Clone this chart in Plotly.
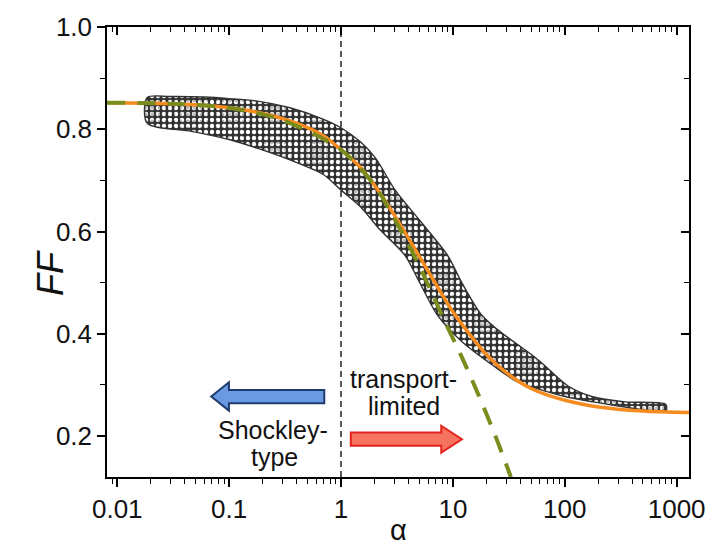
import plotly.graph_objects as go

# ---------------- data ----------------
# measured cloud envelope (upper / lower edges of the scatter of FF vs alpha)
cloud_upper_alpha = [0.0185, 0.03, 0.06, 0.1, 0.18, 0.35, 0.69, 1.0, 1.5, 2.03, 3.05, 5.0,
                     9.0, 12.0, 17.6, 23.0, 30.0, 38.5, 50.0, 64.6, 107.0, 178.0, 346.0, 800.0]
cloud_upper_ff = [0.862, 0.864, 0.863, 0.860, 0.855, 0.842, 0.820, 0.803, 0.775, 0.744, 0.681, 0.623,
                  0.553, 0.500, 0.440, 0.415, 0.395, 0.378, 0.360, 0.340, 0.298, 0.277, 0.267, 0.262]
cloud_lower_alpha = [0.0185, 0.046, 0.1, 0.178, 0.35, 0.69, 1.0, 1.5, 2.2, 3.74, 5.0, 7.3,
                     12.0, 23.2, 38.5, 64.6, 107.0, 178.0, 346.0, 800.0]
cloud_lower_ff = [0.812, 0.796, 0.780, 0.763, 0.740, 0.712, 0.681, 0.648, 0.605, 0.553, 0.502, 0.436,
                  0.385, 0.337, 0.305, 0.289, 0.276, 0.267, 0.257, 0.248]

# orange full-model fit
fit_alpha = [0.0081, 0.02, 0.05, 0.1, 0.2, 0.4, 0.7, 1.0, 1.5, 2.0, 3.0, 5.0, 7.0, 10.0,
             14.0, 20.0, 30.0, 50.0, 100.0, 200.0, 500.0, 1290.0]
fit_ff = [0.852, 0.851, 0.848, 0.842, 0.831, 0.812, 0.787, 0.760, 0.725, 0.690, 0.632, 0.552,
          0.498, 0.443, 0.400, 0.359, 0.324, 0.293, 0.270, 0.257, 0.249, 0.246]

# green dashed Shockley-type curve
shockley_alpha = [0.0081, 0.03, 0.1, 0.3, 1.0, 2.0, 3.0, 4.86, 6.42, 8.7, 12.0, 17.0, 24.0, 33.0]
shockley_ff = [0.852, 0.850, 0.842, 0.818, 0.760, 0.690, 0.625, 0.539, 0.482, 0.419, 0.355, 0.280, 0.200, 0.120]

x_tickvals = [0.01, 0.1, 1, 10, 100, 1000]
x_ticktext = ["0.01", "0.1", "1", "10", "100", "1000"]
y_tickvals = [0.2, 0.4, 0.6, 0.8, 1.0]
y_ticktext = ["0.2", "0.4", "0.6", "0.8", "1.0"]
y_minor = [0.3, 0.5, 0.7, 0.9]
x_minor = [m * 10.0 ** e for e in range(-3, 4) for m in range(2, 10)]

XR = [-2.0915, 3.1106]
YR = [0.12, 1.0]
FONT = "Liberation Sans, Arial, sans-serif"

fig = go.Figure()

# scatter cloud drawn as a dotted band between measured edges
poly_x = cloud_upper_alpha + cloud_lower_alpha[::-1] + [cloud_upper_alpha[0]]
poly_y = cloud_upper_ff + cloud_lower_ff[::-1] + [cloud_upper_ff[0]]
fig.add_trace(go.Scatter(
    x=poly_x, y=poly_y, mode="lines", fill="toself",
    line=dict(color="#333333", width=1.4, shape="spline", smoothing=0.8),
    fillcolor="#555555",
    fillpattern=dict(shape=".", fgcolor="white", bgcolor="#333333", size=6, solidity=0.42,
                     fillmode="replace"),
    hoverinfo="skip", showlegend=False))
# second, offset-period texture layer to break up the regular grid
fig.add_trace(go.Scatter(
    x=poly_x, y=poly_y, mode="lines", fill="toself",
    line=dict(color="rgba(0,0,0,0)", width=0, shape="spline", smoothing=0.8),
    fillcolor="rgba(0,0,0,0)",
    fillpattern=dict(shape=".", fgcolor="rgba(30,30,30,0.6)", bgcolor="rgba(0,0,0,0)",
                     size=7, solidity=0.25, fillmode="overlay"),
    hoverinfo="skip", showlegend=False))

fig.add_trace(go.Scatter(x=fit_alpha, y=fit_ff, mode="lines",
                         line=dict(color="#f68b1f", width=3.5, shape="spline", smoothing=0.8),
                         hoverinfo="skip", showlegend=False))
fig.add_trace(go.Scatter(x=shockley_alpha, y=shockley_ff, mode="lines",
                         line=dict(color="#7b8b1c", width=4, dash="18px,12px", shape="spline",
                                   smoothing=0.8),
                         hoverinfo="skip", showlegend=False))
# invisible trace for mirror axes
fig.add_trace(go.Scatter(x=[1], y=[0.5], xaxis="x2", yaxis="y2", mode="markers",
                         marker=dict(opacity=0), hoverinfo="skip", showlegend=False))

axis_common = dict(showline=True, linecolor="black", linewidth=1.5, showgrid=False,
                   zeroline=False, tickcolor="black", tickwidth=1.5,
                   tickfont=dict(family=FONT, size=26, color="#111"))

fig.update_layout(
    width=717, height=551,
    margin=dict(l=107, r=18, t=16, b=74),
    paper_bgcolor="white", plot_bgcolor="white",
    xaxis=dict(type="log", range=XR, tickvals=x_tickvals, ticktext=x_ticktext,
               ticks="outside", ticklen=8, mirror=True,
               minor=dict(tickvals=x_minor, ticks="outside", ticklen=5, tickwidth=1.2,
                          tickcolor="black"),
               **axis_common),
    yaxis=dict(range=YR, tickvals=y_tickvals, ticktext=y_ticktext, ticks="outside",
               ticklen=8, mirror=True, ticklabelstandoff=0,
               minor=dict(tickvals=y_minor, ticks="outside", ticklen=5, tickwidth=1.2,
                          tickcolor="black"),
               **axis_common),
    xaxis2=dict(type="log", range=XR, overlaying="x", side="top", anchor="y",
                tickvals=x_tickvals, showticklabels=False, ticks="inside", ticklen=8,
                tickwidth=1.5, tickcolor="black", showgrid=False, showline=False,
                zeroline=False,
                minor=dict(tickvals=x_minor, ticks="inside", ticklen=5, tickwidth=1.2,
                           tickcolor="black")),
    yaxis2=dict(range=YR, overlaying="y", side="right", anchor="x",
                tickvals=y_tickvals, showticklabels=False, ticks="inside", ticklen=8,
                tickwidth=1.5, tickcolor="black", showgrid=False, showline=False,
                zeroline=False,
                minor=dict(tickvals=y_minor, ticks="inside", ticklen=5, tickwidth=1.2,
                           tickcolor="black")),
)

# vertical dashed separator at alpha = 1
fig.add_shape(type="line", x0=1, x1=1, xref="x", y0=0, y1=1, yref="paper",
              line=dict(color="#222", width=1.5, dash="6px,4px"), layer="below")


def P(px, py):
    return (px - 107) / 592, (477 - py) / 461


def path(pts):
    s = ""
    for i, (a, b) in enumerate(pts):
        x, y = P(a, b)
        s += ("M" if i == 0 else "L") + f"{x:.4f},{y:.4f} "
    return s + "Z"


blue = [(213, 394.5), (231, 380), (231, 388), (328, 388), (328, 401.5), (231, 401.5), (231, 409)]
red = [(355, 431.5), (447, 431.5), (447, 424.5), (468, 438.3), (447, 452), (447, 445), (355, 445)]
fig.add_shape(type="path", path=path(blue), xref="paper", yref="paper",
              fillcolor="#6a9be2", line=dict(color="#1f3b6e", width=2))
fig.add_shape(type="path", path=path(red), xref="paper", yref="paper",
              fillcolor="#f5735f", line=dict(color="#e3231c", width=2))

texts = [("transport-", 409, 377), ("limited", 409, 404), ("Shockley-", 276, 429), ("type", 277, 456)]
for t, px, py in texts:
    x, y = P(px, py)
    fig.add_annotation(text=t, x=x, y=y, xref="paper", yref="paper", showarrow=False,
                       xanchor="center", yanchor="middle",
                       font=dict(family=FONT, size=25, color="#111"))

x, y = P(403, 531)
fig.add_annotation(text="α", x=x, y=y, xref="paper", yref="paper", showarrow=False,
                   xanchor="center", yanchor="middle", font=dict(family=FONT, size=29, color="#111"))
x, y = P(50, 268)
fig.add_annotation(text="<i>FF</i>", x=x, y=y, xref="paper", yref="paper", showarrow=False,
                   textangle=-90, xanchor="center", yanchor="middle",
                   font=dict(family=FONT, size=36, color="#111"))

fig.write_html("out.html")
